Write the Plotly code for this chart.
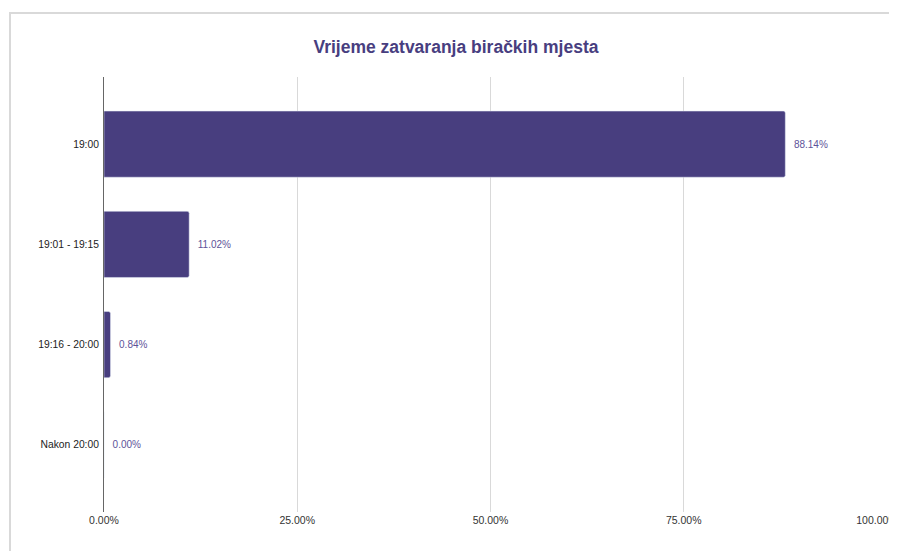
import plotly.graph_objects as go

categories = ['19:00', '19:01 - 19:15', '19:16 - 20:00', 'Nakon 20:00']
shares = [88.14, 11.02, 0.84, 0.00]
x_ticks = [0, 25, 50, 75, 100]
x_tick_labels = ['0.00%', '25.00%', '50.00%', '75.00%', '100.00%']

bar_color = '#483e7f'
font_family = 'Arial, Liberation Sans, sans-serif'

fig = go.Figure()

fig.add_trace(go.Bar(
    x=shares,
    y=categories,
    orientation='h',
    marker=dict(color=bar_color, cornerradius=2),
    width=0.66,
    text=[f'  {v:.2f}%' for v in shares],
    textposition='outside',
    textfont=dict(size=10, color='#5d5399', family=font_family),
    cliponaxis=False,
    hoverinfo='skip'
))

# card outline behind the chart
fig.add_shape(
    type='rect', xref='paper', yref='paper',
    x0=-0.1216, x1=1.4, y0=-0.3, y1=1.147,
    line=dict(color='#d9d9d9', width=2),
    fillcolor='rgba(0,0,0,0)',
    layer='below'
)

# page body adds an 8px offset; margins account for it
fig.update_layout(
    width=897,
    height=551,
    title=dict(
        text='<b>Vrijeme zatvaranja biračkih mjesta</b>',
        x=0.4994,
        xanchor='center',
        y=0.9292,
        yanchor='middle',
        font=dict(size=17.5, color=bar_color, family=font_family)
    ),
    font=dict(family=font_family, size=10, color='#333333'),
    plot_bgcolor='white',
    paper_bgcolor='white',
    showlegend=False,
    margin=dict(l=96, r=28, t=69, b=47, autoexpand=False),
    xaxis=dict(
        range=[0, 100],
        tickvals=x_ticks,
        ticktext=x_tick_labels,
        showgrid=True,
        gridcolor='#d9d9d9',
        gridwidth=1,
        zeroline=False,
        showline=False,
        ticks='',
        automargin=False,
        tickfont=dict(size=10.5, color='#333333'),
        fixedrange=True
    ),
    yaxis=dict(
        autorange=False,
        range=[3.67, -0.67],
        showgrid=False,
        showline=True,
        linecolor='#666666',
        linewidth=1,
        ticks='',
        automargin=False,
        ticklabelstandoff=2,
        tickfont=dict(size=10.3, color='#222222'),
        fixedrange=True
    )
)

fig.write_html('out.html')
